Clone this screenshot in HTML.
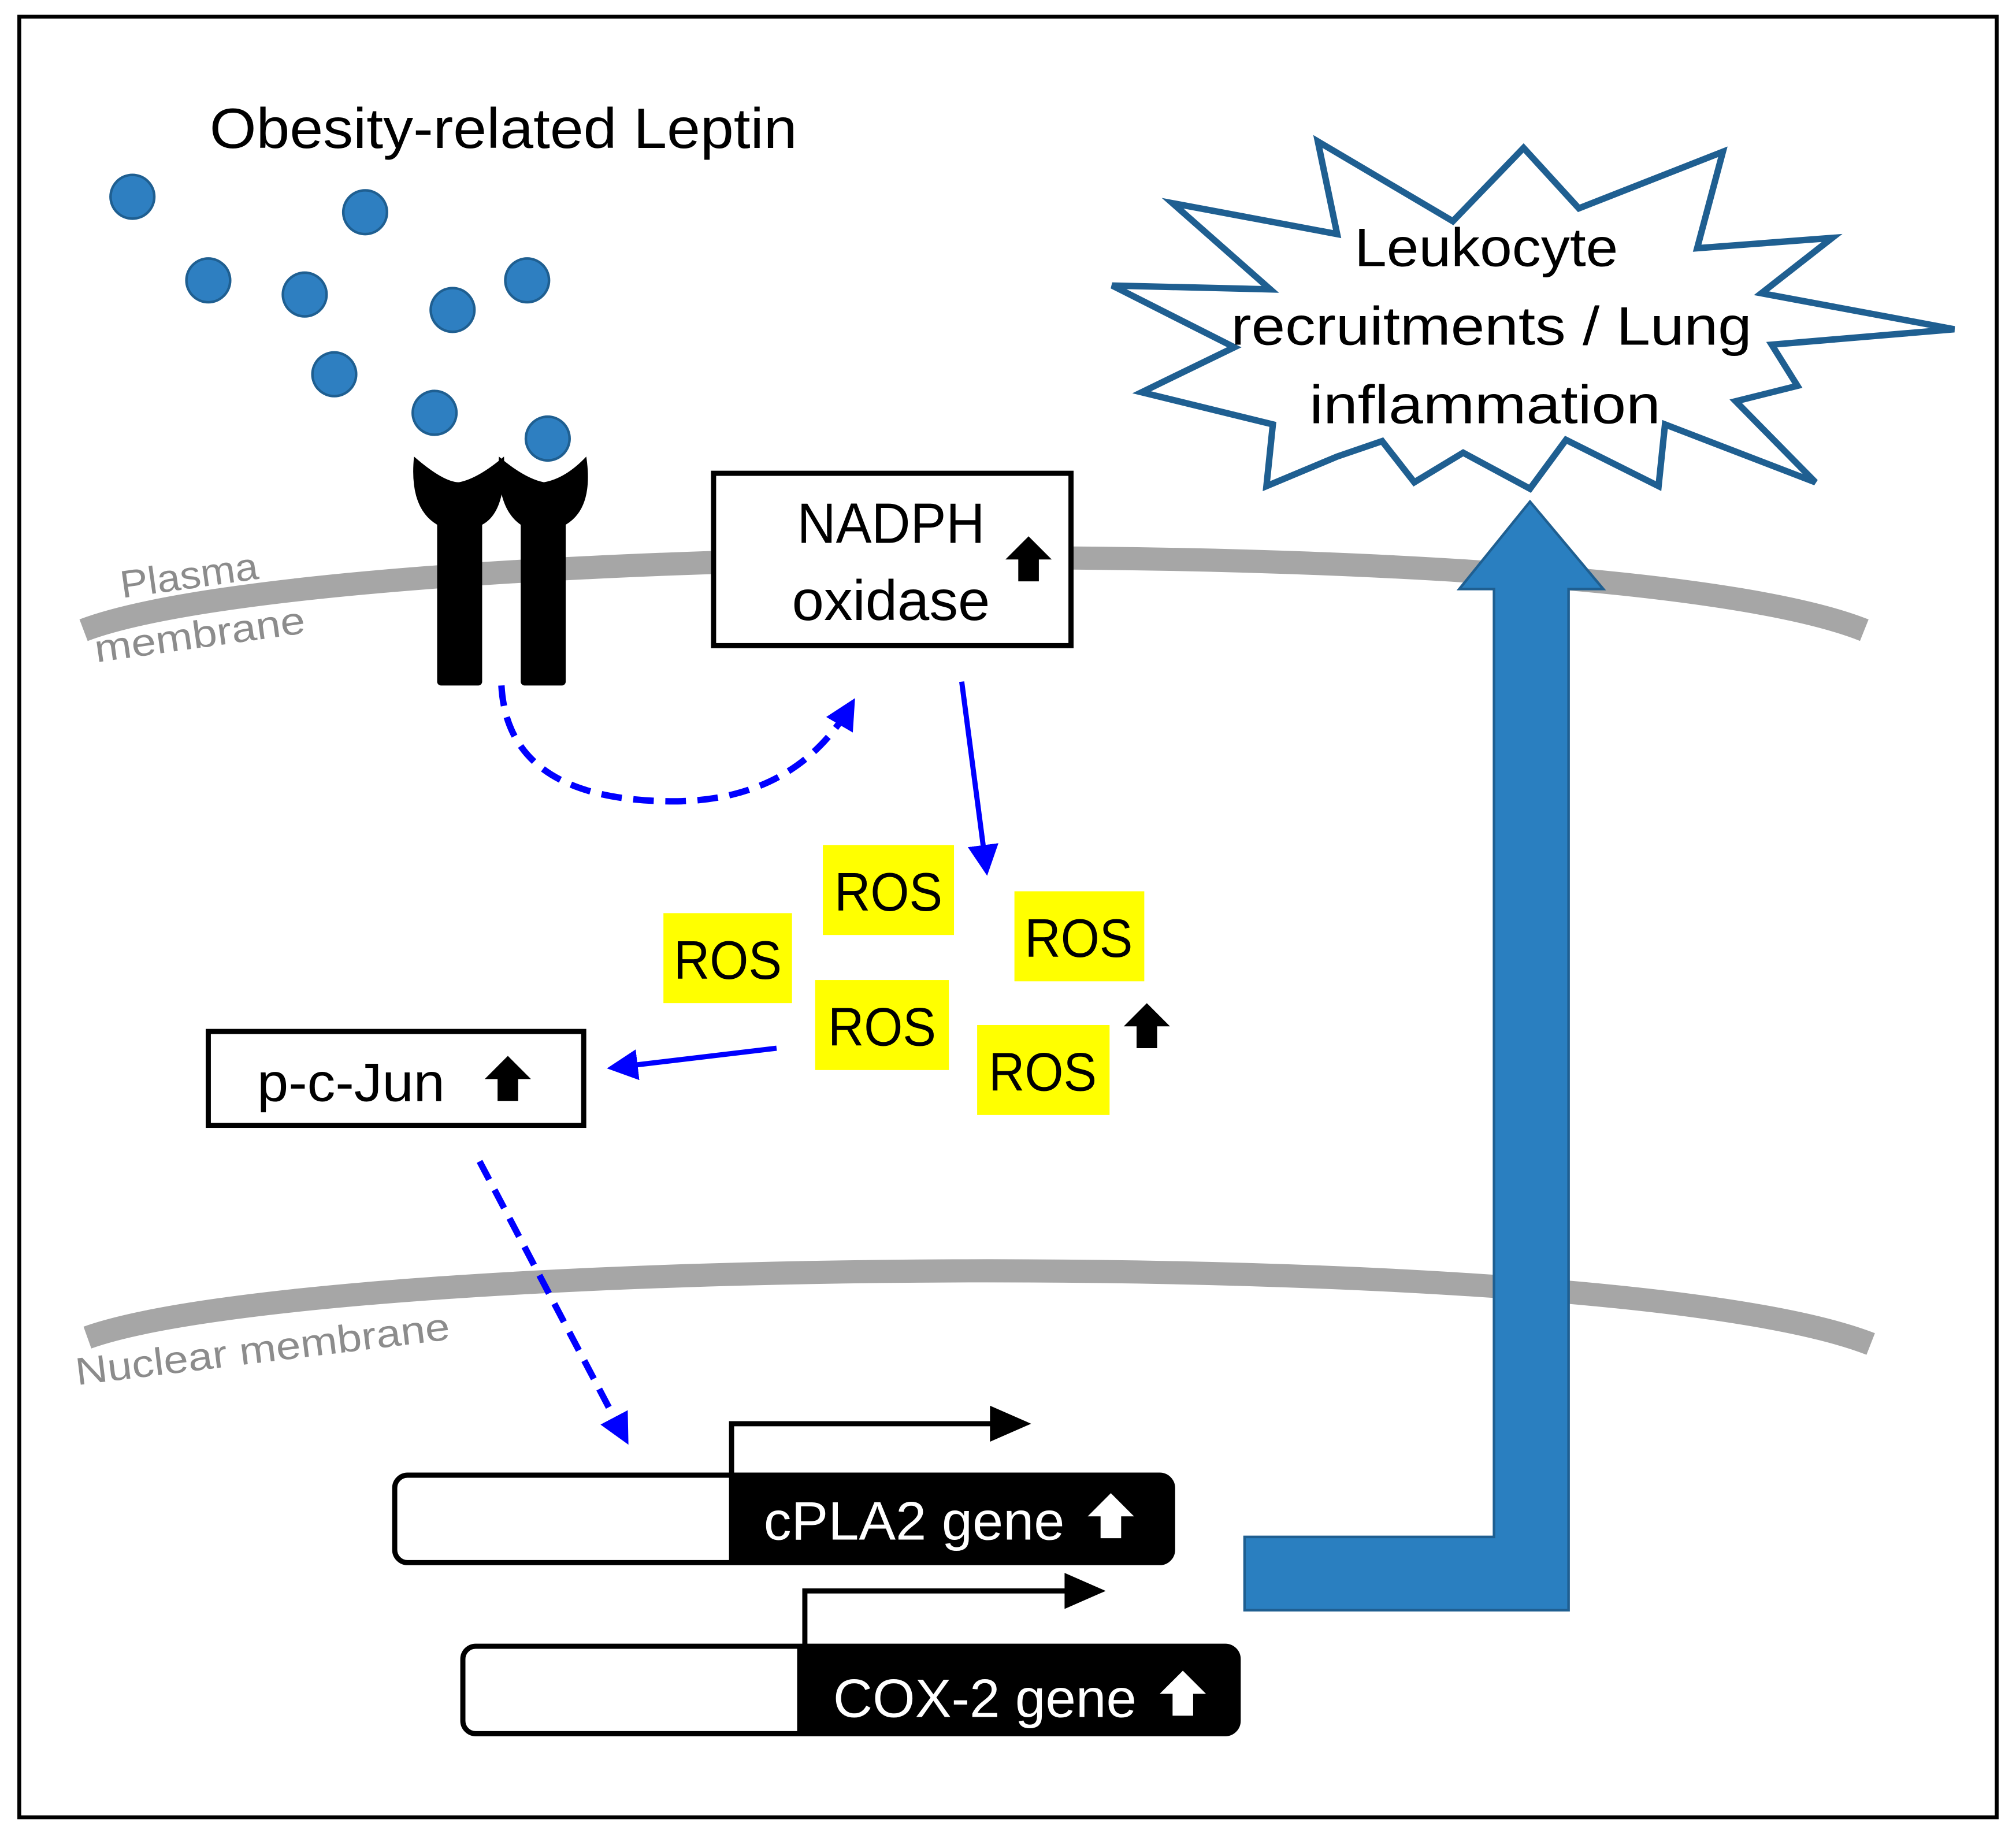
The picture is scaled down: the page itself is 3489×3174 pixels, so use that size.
<!DOCTYPE html>
<html><head><meta charset="utf-8"><style>
html,body{margin:0;padding:0;background:#fff;}
svg{display:block;}
text{font-family:"Liberation Sans",sans-serif;}
</style></head><body>
<svg width="3489" height="3174" viewBox="0 0 1568 1426" preserveAspectRatio="none" xmlns="http://www.w3.org/2000/svg">
<defs>
<marker id="ab" markerWidth="26" markerHeight="24" refX="18" refY="12" orient="auto" markerUnits="userSpaceOnUse"><path d="M0,0 L24,12 L0,24 Z" fill="#0000ff"/></marker>
</defs>
<rect x="15" y="13" width="1538" height="1400" fill="#fff" stroke="#000" stroke-width="3"/>
<text x="163" y="115" font-size="44" textLength="457" lengthAdjust="spacingAndGlyphs">Obesity-related Leptin</text>
<g fill="#2e7fc1" stroke="#1f5f91" stroke-width="2">
<circle cx="103" cy="153" r="17"/><circle cx="284" cy="165" r="17"/><circle cx="162" cy="218" r="17"/>
<circle cx="237" cy="229" r="17"/><circle cx="352" cy="241" r="17"/><circle cx="410" cy="218" r="17"/>
<circle cx="260" cy="291" r="17"/><circle cx="338" cy="321" r="17"/><circle cx="426" cy="341" r="17"/>
</g>
<!-- membranes -->
<path d="M65 490 C 250 420, 1250 410, 1450 490" fill="none" stroke="#a6a6a6" stroke-width="18"/>
<path d="M68 1040 C 250 975, 1250 965, 1455 1045" fill="none" stroke="#a6a6a6" stroke-width="18"/>
<text x="95" y="465" font-size="30" fill="#8c8c8c" transform="rotate(-8 95 465)" textLength="108" lengthAdjust="spacingAndGlyphs">Plasma</text>
<text x="75" y="515" font-size="30" fill="#8c8c8c" transform="rotate(-8 75 515)" textLength="165" lengthAdjust="spacingAndGlyphs">membrane</text>
<text x="60" y="1077" font-size="30" fill="#8c8c8c" transform="rotate(-7 60 1077)" textLength="293" lengthAdjust="spacingAndGlyphs">Nuclear membrane</text>
<!-- receptor -->
<g fill="#000">
<rect x="340" y="395" width="35" height="138" rx="3"/>
<rect x="405" y="395" width="35" height="138" rx="3"/>
<path d="M322 355 Q345 375 357 375 Q372 372 392 355 Q394 398 375 408 L340 408 Q318 395 322 355Z"/>
<path d="M388 355 Q408 372 423 375 Q440 372 456 355 Q462 395 440 408 L405 408 Q386 395 388 355Z"/>
</g>
<!-- NADPH -->
<rect x="555" y="368" width="278" height="134" fill="#fff" stroke="#000" stroke-width="4"/>
<text x="693" y="422" font-size="44" text-anchor="middle" textLength="146" lengthAdjust="spacingAndGlyphs">NADPH</text>
<text x="693" y="482" font-size="44" text-anchor="middle" textLength="154" lengthAdjust="spacingAndGlyphs">oxidase</text>
<path d="M800 417 L818 435 L808 435 L808 452 L792 452 L792 435 L782 435Z" fill="#000"/>
<!-- dashed curve -->
<path d="M390 533 Q395 625 530 623 Q620 620 662 548" fill="none" stroke="#0000ff" stroke-width="5" stroke-dasharray="16 9" marker-end="url(#ab)"/>
<line x1="748" y1="530" x2="767" y2="675" stroke="#0000ff" stroke-width="4" marker-end="url(#ab)"/>
<!-- ROS -->
<g fill="#ffff00">
<rect x="640" y="657" width="102" height="70"/><rect x="789" y="693" width="101" height="70"/>
<rect x="516" y="710" width="100" height="70"/><rect x="634" y="762" width="104" height="70"/>
<rect x="760" y="797" width="103" height="70"/>
</g>
<g font-size="42" text-anchor="middle">
<text x="691" y="708" textLength="84" lengthAdjust="spacingAndGlyphs">ROS</text>
<text x="839" y="744" textLength="84" lengthAdjust="spacingAndGlyphs">ROS</text>
<text x="566" y="761" textLength="84" lengthAdjust="spacingAndGlyphs">ROS</text>
<text x="686" y="813" textLength="84" lengthAdjust="spacingAndGlyphs">ROS</text>
<text x="811" y="848" textLength="84" lengthAdjust="spacingAndGlyphs">ROS</text>
</g>
<path d="M892 780 L910 798 L900 798 L900 815 L884 815 L884 798 L874 798Z" fill="#000"/>
<!-- p-c-Jun -->
<rect x="162" y="802" width="292" height="73" fill="#fff" stroke="#000" stroke-width="4"/>
<text x="200" y="856" font-size="42" textLength="146" lengthAdjust="spacingAndGlyphs">p-c-Jun</text>
<path d="M395 821 L413 839 L403 839 L403 856 L387 856 L387 839 L377 839Z" fill="#000"/>
<line x1="604" y1="815" x2="478" y2="830" stroke="#0000ff" stroke-width="4" marker-end="url(#ab)"/>
<line x1="373" y1="903" x2="486" y2="1118" stroke="#0000ff" stroke-width="5" stroke-dasharray="16 9" marker-end="url(#ab)"/>
<!-- genes -->
<rect x="307" y="1147" width="605" height="68" rx="10" fill="#fff" stroke="#000" stroke-width="4"/>
<path d="M567 1147 L902 1147 Q912 1147 912 1157 L912 1205 Q912 1215 902 1215 L567 1215Z" fill="#000"/>
<text x="594" y="1197" font-size="42" fill="#fff" textLength="234" lengthAdjust="spacingAndGlyphs">cPLA2 gene</text>
<path d="M864 1161 L882 1179 L872 1179 L872 1196 L856 1196 L856 1179 L846 1179Z" fill="#fff"/>
<path d="M569 1147 L569 1107 L780 1107" fill="none" stroke="#000" stroke-width="4"/>
<path d="M770 1093 L802 1107 L770 1121Z" fill="#000"/>
<rect x="360" y="1280" width="603" height="68" rx="10" fill="#fff" stroke="#000" stroke-width="4"/>
<path d="M620 1280 L953 1280 Q963 1280 963 1290 L963 1338 Q963 1348 953 1348 L620 1348Z" fill="#000"/>
<text x="648" y="1335" font-size="42" fill="#fff" textLength="236" lengthAdjust="spacingAndGlyphs">COX-2 gene</text>
<path d="M920 1299 L938 1317 L928 1317 L928 1334 L912 1334 L912 1317 L902 1317Z" fill="#fff"/>
<path d="M626 1280 L626 1237 L838 1237" fill="none" stroke="#000" stroke-width="4"/>
<path d="M828 1223 L860 1237 L828 1251Z" fill="#000"/>
<!-- big arrow -->
<path d="M968 1195 L1162 1195 L1162 458 L1135 458 L1190 390 L1247 458 L1220 458 L1220 1252 L968 1252Z" fill="#2a7fc0" stroke="#1f5f91" stroke-width="2"/>
<!-- starburst -->
<polygon points="1025,110 1130,172 1185,115 1228,162 1340,118 1320,193 1425,185 1370,228 1520,256 1378,268 1398,300 1350,312 1412,375 1295,330 1290,378 1218,342 1190,380 1138,352 1100,375 1075,343 1040,355 985,378 990,330 888,305 960,270 865,222 988,225 912,158 1040,182" fill="#fff" stroke="#1f5f91" stroke-width="5" stroke-linejoin="miter"/>
<g font-size="42" text-anchor="middle">
<text x="1156" y="207" textLength="205" lengthAdjust="spacingAndGlyphs">Leukocyte</text>
<text x="1160" y="268" textLength="405" lengthAdjust="spacingAndGlyphs">recruitments / Lung</text>
<text x="1155" y="329" textLength="273" lengthAdjust="spacingAndGlyphs">inflammation</text>
</g>
</svg>
</body></html>
